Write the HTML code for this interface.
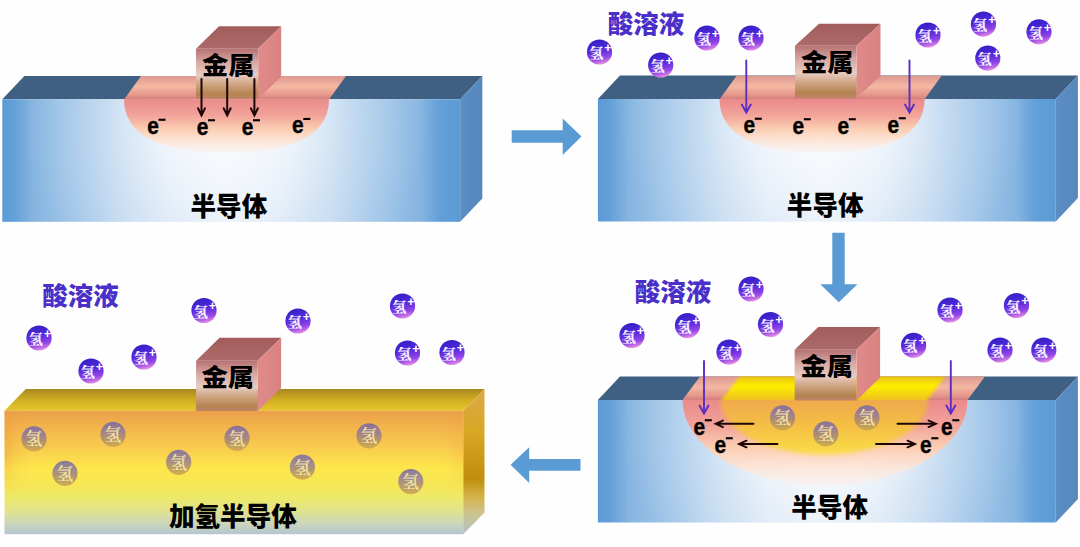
<!DOCTYPE html>
<html lang="zh"><head><meta charset="utf-8"><title>半导体加氢</title>
<style>html,body{margin:0;padding:0;background:#fff}svg{display:block}text{font-family:'Liberation Sans','Noto Sans CJK SC',sans-serif}text.sf{font-family:"Liberation Serif","Noto Serif CJK SC",serif}</style></head><body>
<svg width="1080" height="547" viewBox="0 0 1080 547">

<defs>
<linearGradient id="gBlue" x1="0" y1="0" x2="1" y2="0">
 <stop offset="0.000" stop-color="#5b9bd5"/>
 <stop offset="0.025" stop-color="#639fd8"/>
 <stop offset="0.065" stop-color="#84b4e0"/>
 <stop offset="0.130" stop-color="#98c0e6"/>
 <stop offset="0.195" stop-color="#a9caea"/>
 <stop offset="0.260" stop-color="#bdd6ef"/>
 <stop offset="0.370" stop-color="#d6e4f4"/>
 <stop offset="0.490" stop-color="#e0ebf7"/>
 <stop offset="0.610" stop-color="#d6e4f4"/>
 <stop offset="0.720" stop-color="#bdd6ef"/>
 <stop offset="0.785" stop-color="#a9caea"/>
 <stop offset="0.850" stop-color="#98c0e6"/>
 <stop offset="0.915" stop-color="#84b4e0"/>
 <stop offset="0.955" stop-color="#639fd8"/>
 <stop offset="1.000" stop-color="#5b9bd5"/>
</linearGradient>
<radialGradient id="gGlow" cx="0.49" cy="0.22" r="0.44" gradientTransform="translate(0.49,0.22) scale(1,3.4) translate(-0.49,-0.22)">
 <stop offset="0" stop-color="#fff" stop-opacity="0.85"/>
 <stop offset="0.3" stop-color="#fff" stop-opacity="0.62"/>
 <stop offset="0.6" stop-color="#fff" stop-opacity="0.27"/>
 <stop offset="1" stop-color="#fff" stop-opacity="0"/>
</radialGradient>
<filter id="soft" x="-10%" y="-10%" width="120%" height="130%"><feGaussianBlur stdDeviation="2.2"/></filter>
<filter id="soft1" x="-10%" y="-10%" width="120%" height="120%"><feGaussianBlur stdDeviation="0.5"/></filter>
<linearGradient id="gSide" x1="0" y1="0" x2="1" y2="0">
 <stop offset="0" stop-color="#5b8ec5"/>
 <stop offset="1" stop-color="#5687bc"/>
</linearGradient>
<linearGradient id="gPink" x1="0" y1="0" x2="0" y2="1">
 <stop offset="0" stop-color="#ea8a8a"/>
 <stop offset="0.3" stop-color="#f2a39a"/>
 <stop offset="0.55" stop-color="#fbcdb2"/>
 <stop offset="0.8" stop-color="#fde6d8" stop-opacity="0.9"/>
 <stop offset="1" stop-color="#fbeee8" stop-opacity="0.55"/>
</linearGradient>
<linearGradient id="gPinkTop" x1="0" y1="0" x2="0" y2="1">
 <stop offset="0" stop-color="#de9890"/>
 <stop offset="0.45" stop-color="#f4b8a2"/>
 <stop offset="0.8" stop-color="#e6988c"/>
 <stop offset="1" stop-color="#d47e7c"/>
</linearGradient>
<linearGradient id="gMetalF" x1="0" y1="0" x2="0" y2="1">
 <stop offset="0" stop-color="#b67272"/>
 <stop offset="0.25" stop-color="#d6a6a0"/>
 <stop offset="0.52" stop-color="#e8ccc4"/>
 <stop offset="0.7" stop-color="#d0a684"/>
 <stop offset="0.9" stop-color="#b48450"/>
 <stop offset="1" stop-color="#c08468"/>
</linearGradient>
<linearGradient id="gMetalT" x1="0" y1="0" x2="0" y2="1">
 <stop offset="0" stop-color="#a25c5c"/>
 <stop offset="1" stop-color="#ad6a6a"/>
</linearGradient>
<linearGradient id="gMetalS" x1="0" y1="0" x2="1" y2="0">
 <stop offset="0" stop-color="#e08a8a"/>
 <stop offset="1" stop-color="#d98282"/>
</linearGradient>
<linearGradient id="gIon" x1="0.38" y1="0" x2="0.62" y2="1">
 <stop offset="0" stop-color="#3320c4"/>
 <stop offset="0.4" stop-color="#5228dc"/>
 <stop offset="0.75" stop-color="#9446e6"/>
 <stop offset="0.92" stop-color="#d07ae4"/>
 <stop offset="1" stop-color="#f0a6e6"/>
</linearGradient>
<linearGradient id="gBall" x1="0" y1="0" x2="0" y2="1">
 <stop offset="0" stop-color="#6e60b0" stop-opacity="0.8"/>
 <stop offset="0.35" stop-color="#8670a0" stop-opacity="0.78"/>
 <stop offset="0.7" stop-color="#a88a6c" stop-opacity="0.8"/>
 <stop offset="1" stop-color="#d0a84c" stop-opacity="0.88"/>
</linearGradient>
<linearGradient id="gYellow" x1="0" y1="0" x2="0" y2="1">
 <stop offset="0" stop-color="#f0aa4c"/>
 <stop offset="0.13" stop-color="#f0aa4c"/>
 <stop offset="0.5" stop-color="#f4bc44"/>
 <stop offset="0.85" stop-color="#f8d444"/>
 <stop offset="1" stop-color="#fade4c"/>
</linearGradient>
<filter id="soft15" x="-10%" y="-10%" width="120%" height="120%"><feGaussianBlur stdDeviation="1.6"/></filter>
<linearGradient id="gYellowTop" gradientUnits="userSpaceOnUse" x1="0" y1="376.5" x2="0" y2="400">
 <stop offset="0" stop-color="#e8c010"/>
 <stop offset="0.4" stop-color="#fff000"/>
 <stop offset="1" stop-color="#f0c020"/>
</linearGradient>
<linearGradient id="gGoldF" x1="0" y1="0" x2="0" y2="1">
 <stop offset="0" stop-color="#eba04a"/>
 <stop offset="0.12" stop-color="#f2b24c"/>
 <stop offset="0.3" stop-color="#f8cc4e"/>
 <stop offset="0.46" stop-color="#fde64c"/>
 <stop offset="0.6" stop-color="#f6e856"/>
 <stop offset="0.72" stop-color="#ece86e"/>
 <stop offset="0.82" stop-color="#dfe192"/>
 <stop offset="0.92" stop-color="#cad5bc"/>
 <stop offset="1" stop-color="#b4c6d0"/>
</linearGradient>
<linearGradient id="gGoldEdge" x1="0" y1="0" x2="1" y2="0">
 <stop offset="0" stop-color="#ee9c44" stop-opacity="0.6"/>
 <stop offset="0.025" stop-color="#f0a040" stop-opacity="0.2"/>
 <stop offset="0.06" stop-color="#f0a040" stop-opacity="0"/>
 <stop offset="0.96" stop-color="#f0a040" stop-opacity="0"/>
 <stop offset="1" stop-color="#f0a040" stop-opacity="0.3"/>
</linearGradient>
<linearGradient id="gFadeV" x1="0" y1="0" x2="0" y2="1">
 <stop offset="0" stop-color="#fff"/>
 <stop offset="0.35" stop-color="#ccc"/>
 <stop offset="0.7" stop-color="#000"/>
</linearGradient>
<linearGradient id="gGoldT" x1="0" y1="0" x2="0" y2="1">
 <stop offset="0" stop-color="#a88620"/>
 <stop offset="0.5" stop-color="#d0ae20"/>
 <stop offset="1" stop-color="#e6c62c"/>
</linearGradient>
<linearGradient id="gGoldS" x1="0" y1="0" x2="0" y2="1">
 <stop offset="0" stop-color="#dca848"/>
 <stop offset="0.3" stop-color="#d8a824"/>
 <stop offset="0.62" stop-color="#c08e0c"/>
 <stop offset="0.74" stop-color="#d4b248"/>
 <stop offset="0.86" stop-color="#ccc490"/>
 <stop offset="1" stop-color="#b0c0c8"/>
</linearGradient>
</defs>

<rect width="1080" height="547" fill="#fefefe"/>
<polygon points="2.3,99.3 24.4,75.9 482.3,75.9 460.2,99.3" fill="#3f6083" />
<polygon points="460.2,99.3 482.3,75.9 482.3,198.4 460.2,221.8" fill="url(#gSide)" />
<rect x="2.3" y="99.3" width="457.9" height="122.5" fill="url(#gBlue)"/>
<rect x="2.3" y="99.3" width="457.9" height="122.5" fill="url(#gGlow)"/>
<polygon points="124.0,99.5 141.0,76.0 346.0,76.0 329.0,99.5" fill="url(#gPinkTop)" />
<path d="M124.0 99.3 C124.0 134.1 157.8 152.8 226.5 152.8 C295.2 152.8 329.0 134.1 329.0 99.3 Z" fill="url(#gPink)"/>
<polygon points="196.0,48.8 219.0,26.3 281.2,26.3 258.2,48.8" fill="url(#gMetalT)" />
<polygon points="258.2,48.8 281.2,26.3 281.2,76.5 258.2,99.0" fill="url(#gMetalS)" />
<rect x="196.0" y="48.8" width="62.2" height="50.2" fill="url(#gMetalF)"/>
<text x="228.2" y="73.6" font-size="24.4" font-weight="900" text-anchor="middle" fill="#000" textLength="52.6" lengthAdjust="spacingAndGlyphs">金属</text>
<path d="M201.5 79.0 V115.5 M198.0 108.3 L201.5 115.5 L205.0 108.3" fill="none" stroke="#1c0606" stroke-width="2.0" stroke-linecap="round" stroke-linejoin="miter"/>
<path d="M227.2 79.0 V115.5 M223.7 108.3 L227.2 115.5 L230.7 108.3" fill="none" stroke="#1c0606" stroke-width="2.0" stroke-linecap="round" stroke-linejoin="miter"/>
<path d="M254.4 79.0 V115.5 M250.9 108.3 L254.4 115.5 L257.9 108.3" fill="none" stroke="#1c0606" stroke-width="2.0" stroke-linecap="round" stroke-linejoin="miter"/>
<text x="147.2" y="134.0" font-size="24" font-weight="700" fill="#000" stroke="#000" stroke-width="0.45" textLength="11.6" lengthAdjust="spacingAndGlyphs">e</text><rect x="158.5" y="118.7" width="7" height="2.1" fill="#000"/>
<text x="196.7" y="134.5" font-size="24" font-weight="700" fill="#000" stroke="#000" stroke-width="0.45" textLength="11.6" lengthAdjust="spacingAndGlyphs">e</text><rect x="208.0" y="119.2" width="7" height="2.1" fill="#000"/>
<text x="241.7" y="134.5" font-size="24" font-weight="700" fill="#000" stroke="#000" stroke-width="0.45" textLength="11.6" lengthAdjust="spacingAndGlyphs">e</text><rect x="253.0" y="119.2" width="7" height="2.1" fill="#000"/>
<text x="292.0" y="133.2" font-size="24" font-weight="700" fill="#000" stroke="#000" stroke-width="0.45" textLength="11.6" lengthAdjust="spacingAndGlyphs">e</text><rect x="303.3" y="117.9" width="7" height="2.1" fill="#000"/>
<text x="228.9" y="215.6" font-size="25.6" font-weight="900" text-anchor="middle" fill="#000">半导体</text>
<polygon points="597.9,99.0 620.0,75.6 1077.9,75.6 1055.8,99.0" fill="#3f6083" />
<polygon points="1055.8,99.0 1077.9,75.6 1077.9,198.1 1055.8,221.5" fill="url(#gSide)" />
<rect x="597.9" y="99.0" width="457.9" height="122.5" fill="url(#gBlue)"/>
<rect x="597.9" y="99.0" width="457.9" height="122.5" fill="url(#gGlow)"/>
<polygon points="719.6,99.2 736.6,75.7 941.6,75.7 924.6,99.2" fill="url(#gPinkTop)" />
<path d="M719.6 99.0 C719.6 133.8 753.4 152.5 822.1 152.5 C890.8 152.5 924.6 133.8 924.6 99.0 Z" fill="url(#gPink)"/>
<polygon points="795.0,45.7 819.0,23.7 880.5,23.7 856.5,45.7" fill="url(#gMetalT)" />
<polygon points="856.5,45.7 880.5,23.7 880.5,76.0 856.5,98.0" fill="url(#gMetalS)" />
<rect x="795.0" y="45.7" width="61.5" height="52.3" fill="url(#gMetalF)"/>
<text x="827.3" y="70.9" font-size="24.4" font-weight="900" text-anchor="middle" fill="#000" textLength="52.6" lengthAdjust="spacingAndGlyphs">金属</text>
<text x="743.5" y="133.0" font-size="24" font-weight="700" fill="#000" stroke="#000" stroke-width="0.45" textLength="11.6" lengthAdjust="spacingAndGlyphs">e</text><rect x="754.8" y="117.7" width="7" height="2.1" fill="#000"/>
<text x="792.5" y="133.5" font-size="24" font-weight="700" fill="#000" stroke="#000" stroke-width="0.45" textLength="11.6" lengthAdjust="spacingAndGlyphs">e</text><rect x="803.8" y="118.2" width="7" height="2.1" fill="#000"/>
<text x="837.5" y="133.5" font-size="24" font-weight="700" fill="#000" stroke="#000" stroke-width="0.45" textLength="11.6" lengthAdjust="spacingAndGlyphs">e</text><rect x="848.8" y="118.2" width="7" height="2.1" fill="#000"/>
<text x="887.5" y="132.5" font-size="24" font-weight="700" fill="#000" stroke="#000" stroke-width="0.45" textLength="11.6" lengthAdjust="spacingAndGlyphs">e</text><rect x="898.8" y="117.2" width="7" height="2.1" fill="#000"/>
<path d="M746.3 60.5 V112.5 M741.8 104.5 L746.3 112.5 L750.8 104.5" fill="none" stroke="#5a2ec4" stroke-width="1.9" stroke-linecap="round" stroke-linejoin="miter"/>
<path d="M909.5 60.5 V112.5 M905.0 104.5 L909.5 112.5 L914.0 104.5" fill="none" stroke="#5a2ec4" stroke-width="1.9" stroke-linecap="round" stroke-linejoin="miter"/>
<text x="825.2" y="214.7" font-size="25.6" font-weight="900" text-anchor="middle" fill="#000">半导体</text>
<text x="646" y="33" font-size="25.5" font-weight="900" text-anchor="middle" fill="#4a2fc8">酸溶液</text>
<g transform="translate(599.5,52.0)"><circle r="12.6" fill="url(#gIon)"/><text class="sf" x="-3.2" y="6" font-size="14.2" font-weight="900" text-anchor="middle" fill="#f6f0ff">氢</text><text x="8.5" y="-0.3" font-size="12.5" font-weight="700" text-anchor="middle" fill="#fff">+</text></g>
<g transform="translate(660.7,65.0)"><circle r="12.6" fill="url(#gIon)"/><text class="sf" x="-3.2" y="6" font-size="14.2" font-weight="900" text-anchor="middle" fill="#f6f0ff">氢</text><text x="8.5" y="-0.3" font-size="12.5" font-weight="700" text-anchor="middle" fill="#fff">+</text></g>
<g transform="translate(707.0,38.0)"><circle r="12.6" fill="url(#gIon)"/><text class="sf" x="-3.2" y="6" font-size="14.2" font-weight="900" text-anchor="middle" fill="#f6f0ff">氢</text><text x="8.5" y="-0.3" font-size="12.5" font-weight="700" text-anchor="middle" fill="#fff">+</text></g>
<g transform="translate(751.0,38.0)"><circle r="12.6" fill="url(#gIon)"/><text class="sf" x="-3.2" y="6" font-size="14.2" font-weight="900" text-anchor="middle" fill="#f6f0ff">氢</text><text x="8.5" y="-0.3" font-size="12.5" font-weight="700" text-anchor="middle" fill="#fff">+</text></g>
<g transform="translate(928.0,35.0)"><circle r="12.6" fill="url(#gIon)"/><text class="sf" x="-3.2" y="6" font-size="14.2" font-weight="900" text-anchor="middle" fill="#f6f0ff">氢</text><text x="8.5" y="-0.3" font-size="12.5" font-weight="700" text-anchor="middle" fill="#fff">+</text></g>
<g transform="translate(983.4,24.2)"><circle r="12.6" fill="url(#gIon)"/><text class="sf" x="-3.2" y="6" font-size="14.2" font-weight="900" text-anchor="middle" fill="#f6f0ff">氢</text><text x="8.5" y="-0.3" font-size="12.5" font-weight="700" text-anchor="middle" fill="#fff">+</text></g>
<g transform="translate(1039.0,31.8)"><circle r="12.6" fill="url(#gIon)"/><text class="sf" x="-3.2" y="6" font-size="14.2" font-weight="900" text-anchor="middle" fill="#f6f0ff">氢</text><text x="8.5" y="-0.3" font-size="12.5" font-weight="700" text-anchor="middle" fill="#fff">+</text></g>
<g transform="translate(987.8,58.1)"><circle r="12.6" fill="url(#gIon)"/><text class="sf" x="-3.2" y="6" font-size="14.2" font-weight="900" text-anchor="middle" fill="#f6f0ff">氢</text><text x="8.5" y="-0.3" font-size="12.5" font-weight="700" text-anchor="middle" fill="#fff">+</text></g>
<polygon points="597.9,400.0 620.0,376.6 1077.9,376.6 1055.8,400.0" fill="#3f6083" />
<polygon points="1055.8,400.0 1077.9,376.6 1077.9,499.1 1055.8,522.5" fill="url(#gSide)" />
<rect x="597.9" y="400.0" width="457.9" height="122.5" fill="url(#gBlue)"/>
<rect x="597.9" y="400.0" width="457.9" height="122.5" fill="url(#gGlow)"/>
<polygon points="682.5,400.0 700.0,376.5 985.0,376.5 967.5,400.0" fill="url(#gPinkTop)" />
<clipPath id="cTop3"><polygon points="597.5,400.0 621.0,376.5 1079.0,376.5 1056.0,400.0" fill="#000" /></clipPath>
<clipPath id="cFront3"><rect x="597.5" y="400.0" width="458.5" height="122.5"/></clipPath>
<g clip-path="url(#cTop3)"><polygon points="713.6,410.0 747.4,366.5 952.4,366.5 920.1,410.0" fill="url(#gYellowTop)" filter="url(#soft15)"/></g>
<path d="M682.5 400.0 A142.5 85.5 0 0 0 967.5 400.0 Z" fill="url(#gPink)"/>
<g clip-path="url(#cFront3)"><path d="M720.5 392.0 V400.0 A103.8 54.5 0 0 0 928.1 400.0 V392.0 Z" fill="url(#gYellow)" filter="url(#soft)"/></g>
<polygon points="794.6,349.8 818.2,326.9 880.1,326.9 856.5,349.8" fill="url(#gMetalT)" />
<polygon points="856.5,349.8 880.1,326.9 880.1,377.6 856.5,400.5" fill="url(#gMetalS)" />
<rect x="794.6" y="349.8" width="61.9" height="50.7" fill="url(#gMetalF)"/>
<text x="826.7" y="375.0" font-size="24.4" font-weight="900" text-anchor="middle" fill="#000" textLength="52.6" lengthAdjust="spacingAndGlyphs">金属</text>
<g transform="translate(782.5,417.8)"><circle r="12.6" fill="url(#gBall)" filter="url(#soft1)"/><text class="sf" x="0" y="6.3" font-size="16.5" font-weight="600" text-anchor="middle" fill="#f3e4a6">氢</text></g>
<g transform="translate(825.8,433.8)"><circle r="12.6" fill="url(#gBall)" filter="url(#soft1)"/><text class="sf" x="0" y="6.3" font-size="16.5" font-weight="600" text-anchor="middle" fill="#f3e4a6">氢</text></g>
<g transform="translate(867.0,417.8)"><circle r="12.6" fill="url(#gBall)" filter="url(#soft1)"/><text class="sf" x="0" y="6.3" font-size="16.5" font-weight="600" text-anchor="middle" fill="#f3e4a6">氢</text></g>
<path d="M704.0 361.0 V413.5 M699.5 405.5 L704.0 413.5 L708.5 405.5" fill="none" stroke="#5a2ec4" stroke-width="1.9" stroke-linecap="round" stroke-linejoin="miter"/>
<path d="M950.8 361.0 V413.5 M946.3 405.5 L950.8 413.5 L955.3 405.5" fill="none" stroke="#5a2ec4" stroke-width="1.9" stroke-linecap="round" stroke-linejoin="miter"/>
<text x="693.5" y="434.5" font-size="24" font-weight="700" fill="#000" stroke="#000" stroke-width="0.45" textLength="11.6" lengthAdjust="spacingAndGlyphs">e</text><rect x="704.8" y="419.2" width="7" height="2.1" fill="#000"/>
<text x="714.5" y="452.5" font-size="24" font-weight="700" fill="#000" stroke="#000" stroke-width="0.45" textLength="11.6" lengthAdjust="spacingAndGlyphs">e</text><rect x="725.8" y="437.2" width="7" height="2.1" fill="#000"/>
<text x="941.0" y="434.5" font-size="24" font-weight="700" fill="#000" stroke="#000" stroke-width="0.45" textLength="11.6" lengthAdjust="spacingAndGlyphs">e</text><rect x="952.3" y="419.2" width="7" height="2.1" fill="#000"/>
<text x="920.0" y="452.5" font-size="24" font-weight="700" fill="#000" stroke="#000" stroke-width="0.45" textLength="11.6" lengthAdjust="spacingAndGlyphs">e</text><rect x="931.3" y="437.2" width="7" height="2.1" fill="#000"/>
<path d="M753.5 423.8 H715.5 M723.0 420.5 L715.5 423.8 L723.0 427.1" fill="none" stroke="#1c0606" stroke-width="1.9" stroke-linecap="round"/>
<path d="M777.5 444.0 H739.0 M746.5 440.7 L739.0 444.0 L746.5 447.3" fill="none" stroke="#1c0606" stroke-width="1.9" stroke-linecap="round"/>
<path d="M897.5 423.8 H936.0 M928.5 420.5 L936.0 423.8 L928.5 427.1" fill="none" stroke="#1c0606" stroke-width="1.9" stroke-linecap="round"/>
<path d="M876.0 444.0 H915.0 M907.5 440.7 L915.0 444.0 L907.5 447.3" fill="none" stroke="#1c0606" stroke-width="1.9" stroke-linecap="round"/>
<text x="829.7" y="517.4" font-size="25.6" font-weight="900" text-anchor="middle" fill="#000">半导体</text>
<text x="673" y="301" font-size="25.5" font-weight="900" text-anchor="middle" fill="#4a2fc8">酸溶液</text>
<g transform="translate(751.0,289.0)"><circle r="12.6" fill="url(#gIon)"/><text class="sf" x="-3.2" y="6" font-size="14.2" font-weight="900" text-anchor="middle" fill="#f6f0ff">氢</text><text x="8.5" y="-0.3" font-size="12.5" font-weight="700" text-anchor="middle" fill="#fff">+</text></g>
<g transform="translate(632.0,335.5)"><circle r="12.6" fill="url(#gIon)"/><text class="sf" x="-3.2" y="6" font-size="14.2" font-weight="900" text-anchor="middle" fill="#f6f0ff">氢</text><text x="8.5" y="-0.3" font-size="12.5" font-weight="700" text-anchor="middle" fill="#fff">+</text></g>
<g transform="translate(687.5,325.5)"><circle r="12.6" fill="url(#gIon)"/><text class="sf" x="-3.2" y="6" font-size="14.2" font-weight="900" text-anchor="middle" fill="#f6f0ff">氢</text><text x="8.5" y="-0.3" font-size="12.5" font-weight="700" text-anchor="middle" fill="#fff">+</text></g>
<g transform="translate(770.5,324.5)"><circle r="12.6" fill="url(#gIon)"/><text class="sf" x="-3.2" y="6" font-size="14.2" font-weight="900" text-anchor="middle" fill="#f6f0ff">氢</text><text x="8.5" y="-0.3" font-size="12.5" font-weight="700" text-anchor="middle" fill="#fff">+</text></g>
<g transform="translate(729.0,352.0)"><circle r="12.6" fill="url(#gIon)"/><text class="sf" x="-3.2" y="6" font-size="14.2" font-weight="900" text-anchor="middle" fill="#f6f0ff">氢</text><text x="8.5" y="-0.3" font-size="12.5" font-weight="700" text-anchor="middle" fill="#fff">+</text></g>
<g transform="translate(950.0,310.0)"><circle r="12.6" fill="url(#gIon)"/><text class="sf" x="-3.2" y="6" font-size="14.2" font-weight="900" text-anchor="middle" fill="#f6f0ff">氢</text><text x="8.5" y="-0.3" font-size="12.5" font-weight="700" text-anchor="middle" fill="#fff">+</text></g>
<g transform="translate(1016.5,305.5)"><circle r="12.6" fill="url(#gIon)"/><text class="sf" x="-3.2" y="6" font-size="14.2" font-weight="900" text-anchor="middle" fill="#f6f0ff">氢</text><text x="8.5" y="-0.3" font-size="12.5" font-weight="700" text-anchor="middle" fill="#fff">+</text></g>
<g transform="translate(913.6,345.4)"><circle r="12.6" fill="url(#gIon)"/><text class="sf" x="-3.2" y="6" font-size="14.2" font-weight="900" text-anchor="middle" fill="#f6f0ff">氢</text><text x="8.5" y="-0.3" font-size="12.5" font-weight="700" text-anchor="middle" fill="#fff">+</text></g>
<g transform="translate(1000.0,350.0)"><circle r="12.6" fill="url(#gIon)"/><text class="sf" x="-3.2" y="6" font-size="14.2" font-weight="900" text-anchor="middle" fill="#f6f0ff">氢</text><text x="8.5" y="-0.3" font-size="12.5" font-weight="700" text-anchor="middle" fill="#fff">+</text></g>
<g transform="translate(1043.8,350.0)"><circle r="12.6" fill="url(#gIon)"/><text class="sf" x="-3.2" y="6" font-size="14.2" font-weight="900" text-anchor="middle" fill="#f6f0ff">氢</text><text x="8.5" y="-0.3" font-size="12.5" font-weight="700" text-anchor="middle" fill="#fff">+</text></g>
<polygon points="4.5,410.7 25.8,389.0 484.5,389.0 463.2,410.7" fill="url(#gGoldT)" />
<polygon points="463.2,410.7 484.5,389.0 484.5,512.5 463.2,534.2" fill="url(#gGoldS)" />
<rect x="4.5" y="410.7" width="458.7" height="123.5" fill="url(#gGoldF)"/>
<mask id="mEdge"><rect x="4.5" y="410.7" width="458.7" height="123.5" fill="url(#gFadeV)"/></mask>
<rect x="4.5" y="410.7" width="458.7" height="123.5" fill="url(#gGoldEdge)" mask="url(#mEdge)"/>
<polygon points="196.1,360.7 219.5,337.8 281.1,337.8 257.7,360.7" fill="url(#gMetalT)" />
<polygon points="257.7,360.7 281.1,337.8 281.1,388.1 257.7,411.0" fill="url(#gMetalS)" />
<rect x="196.1" y="360.7" width="61.6" height="50.3" fill="url(#gMetalF)"/>
<text x="227.8" y="385.9" font-size="24.4" font-weight="900" text-anchor="middle" fill="#000" textLength="52.6" lengthAdjust="spacingAndGlyphs">金属</text>
<g transform="translate(34.0,438.8)"><circle r="12.6" fill="url(#gBall)" filter="url(#soft1)"/><text class="sf" x="0" y="6.3" font-size="16.5" font-weight="600" text-anchor="middle" fill="#f3e4a6">氢</text></g>
<g transform="translate(113.0,434.3)"><circle r="12.6" fill="url(#gBall)" filter="url(#soft1)"/><text class="sf" x="0" y="6.3" font-size="16.5" font-weight="600" text-anchor="middle" fill="#f3e4a6">氢</text></g>
<g transform="translate(65.0,473.3)"><circle r="12.6" fill="url(#gBall)" filter="url(#soft1)"/><text class="sf" x="0" y="6.3" font-size="16.5" font-weight="600" text-anchor="middle" fill="#f3e4a6">氢</text></g>
<g transform="translate(178.7,462.3)"><circle r="12.6" fill="url(#gBall)" filter="url(#soft1)"/><text class="sf" x="0" y="6.3" font-size="16.5" font-weight="600" text-anchor="middle" fill="#f3e4a6">氢</text></g>
<g transform="translate(237.0,438.3)"><circle r="12.6" fill="url(#gBall)" filter="url(#soft1)"/><text class="sf" x="0" y="6.3" font-size="16.5" font-weight="600" text-anchor="middle" fill="#f3e4a6">氢</text></g>
<g transform="translate(369.0,435.8)"><circle r="12.6" fill="url(#gBall)" filter="url(#soft1)"/><text class="sf" x="0" y="6.3" font-size="16.5" font-weight="600" text-anchor="middle" fill="#f3e4a6">氢</text></g>
<g transform="translate(302.4,467.2)"><circle r="12.6" fill="url(#gBall)" filter="url(#soft1)"/><text class="sf" x="0" y="6.3" font-size="16.5" font-weight="600" text-anchor="middle" fill="#f3e4a6">氢</text></g>
<g transform="translate(410.8,481.6)"><circle r="12.6" fill="url(#gBall)" filter="url(#soft1)"/><text class="sf" x="0" y="6.3" font-size="16.5" font-weight="600" text-anchor="middle" fill="#f3e4a6">氢</text></g>
<text x="232.9" y="526" font-size="25.6" font-weight="900" text-anchor="middle" fill="#000">加氢半导体</text>
<text x="80.5" y="304.5" font-size="25.5" font-weight="900" text-anchor="middle" fill="#4a2fc8">酸溶液</text>
<g transform="translate(39.0,338.0)"><circle r="12.6" fill="url(#gIon)"/><text class="sf" x="-3.2" y="6" font-size="14.2" font-weight="900" text-anchor="middle" fill="#f6f0ff">氢</text><text x="8.5" y="-0.3" font-size="12.5" font-weight="700" text-anchor="middle" fill="#fff">+</text></g>
<g transform="translate(91.0,371.0)"><circle r="12.6" fill="url(#gIon)"/><text class="sf" x="-3.2" y="6" font-size="14.2" font-weight="900" text-anchor="middle" fill="#f6f0ff">氢</text><text x="8.5" y="-0.3" font-size="12.5" font-weight="700" text-anchor="middle" fill="#fff">+</text></g>
<g transform="translate(144.0,357.0)"><circle r="12.6" fill="url(#gIon)"/><text class="sf" x="-3.2" y="6" font-size="14.2" font-weight="900" text-anchor="middle" fill="#f6f0ff">氢</text><text x="8.5" y="-0.3" font-size="12.5" font-weight="700" text-anchor="middle" fill="#fff">+</text></g>
<g transform="translate(204.0,310.5)"><circle r="12.6" fill="url(#gIon)"/><text class="sf" x="-3.2" y="6" font-size="14.2" font-weight="900" text-anchor="middle" fill="#f6f0ff">氢</text><text x="8.5" y="-0.3" font-size="12.5" font-weight="700" text-anchor="middle" fill="#fff">+</text></g>
<g transform="translate(298.0,321.0)"><circle r="12.6" fill="url(#gIon)"/><text class="sf" x="-3.2" y="6" font-size="14.2" font-weight="900" text-anchor="middle" fill="#f6f0ff">氢</text><text x="8.5" y="-0.3" font-size="12.5" font-weight="700" text-anchor="middle" fill="#fff">+</text></g>
<g transform="translate(402.5,306.0)"><circle r="12.6" fill="url(#gIon)"/><text class="sf" x="-3.2" y="6" font-size="14.2" font-weight="900" text-anchor="middle" fill="#f6f0ff">氢</text><text x="8.5" y="-0.3" font-size="12.5" font-weight="700" text-anchor="middle" fill="#fff">+</text></g>
<g transform="translate(407.5,353.0)"><circle r="12.6" fill="url(#gIon)"/><text class="sf" x="-3.2" y="6" font-size="14.2" font-weight="900" text-anchor="middle" fill="#f6f0ff">氢</text><text x="8.5" y="-0.3" font-size="12.5" font-weight="700" text-anchor="middle" fill="#fff">+</text></g>
<g transform="translate(452.0,352.5)"><circle r="12.6" fill="url(#gIon)"/><text class="sf" x="-3.2" y="6" font-size="14.2" font-weight="900" text-anchor="middle" fill="#f6f0ff">氢</text><text x="8.5" y="-0.3" font-size="12.5" font-weight="700" text-anchor="middle" fill="#fff">+</text></g>
<polygon points="511.7,130.2 562.7,130.2 562.7,118.5 581.5,136.5 562.7,155 562.7,142.7 511.7,142.7" fill="#5b9bd5"/>
<polygon points="832.3,232.8 844.7,232.8 844.7,284.2 857.4,284.2 838.8,302.3 820.3,284.2 832.3,284.2" fill="#5b9bd5"/>
<polygon points="580.5,459 580.5,470.7 529.2,470.7 529.2,482.9 510.6,464.8 529.2,447.2 529.2,459" fill="#5b9bd5"/>
</svg></body></html>
